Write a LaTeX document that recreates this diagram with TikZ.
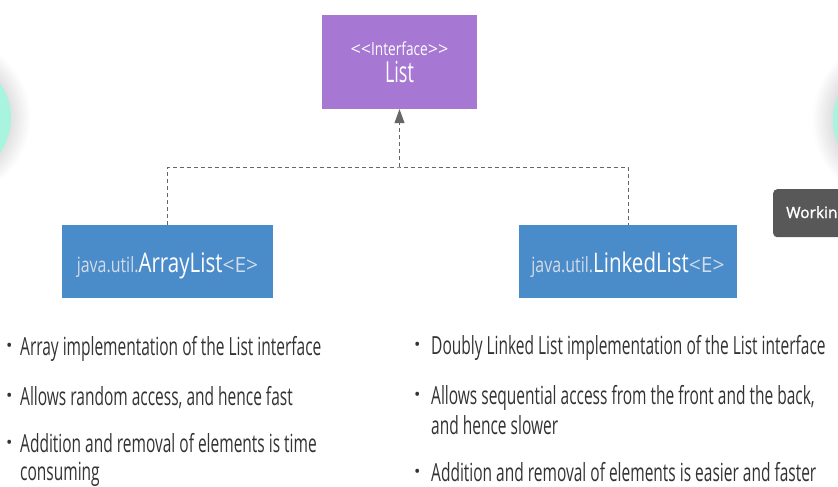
\documentclass[tikz,border=0pt]{standalone}
\usepackage{fontspec}
\setmainfont{Open Sans}
\newfontfamily\cond{Open Sans}[FakeStretch=0.62]
\newfontfamily\condB{Open Sans}[FakeStretch=0.76]
\newfontfamily\plainsans{Open Sans}
\newfontfamily\tipfont{Open Sans}[FakeBold=1.5]
\usetikzlibrary{arrows.meta}
\definecolor{ifacepurple}{HTML}{A677D3}
\definecolor{classblue}{HTML}{4A8BC9}
\definecolor{mint}{HTML}{A9F4DF}
\definecolor{linegray}{HTML}{666666}
\definecolor{textdark}{HTML}{333333}
\definecolor{javagray}{HTML}{D3DCE8}
\definecolor{tipgray}{HTML}{585858}
\begin{document}
\begin{tikzpicture}[x=1pt,y=-1pt,
  iface/.style={fill=ifacepurple, minimum width=155pt, minimum height=94pt, inner sep=0pt, align=center, text=white},
  classbox/.style={fill=classblue, minimum height=73pt, inner sep=0pt, text=white, text height=21pt, text depth=0pt},
  realize/.style={draw=linegray, line width=0.9pt, dash pattern=on 4pt off 3pt},
  realizetip/.style={draw=linegray, line width=0.9pt, dash pattern=on 4pt off 3pt, -{Triangle[length=14pt,width=10pt,fill=linegray]}},
  itemtext/.style={anchor=base west, inner sep=0pt, text=textdark, font=\cond\fontsize{25}{30}\selectfont},
  dotmark/.style={anchor=base west, inner sep=0pt, text=textdark, font=\plainsans\fontsize{17}{20}\selectfont},
  mintball/.style={fill=mint, draw=none},
  tipbox/.style={fill=tipgray, rounded corners=4pt, anchor=north west, minimum height=48pt, minimum width=80pt, inner sep=0pt, text=white}
]
\useasboundingbox (0,0) rectangle (838,487);
\clip (0,0) rectangle (838,487);
\fill[white] (0,0) rectangle (838,487);

% side circles with soft shadow
\foreach \k in {10,...,1}{
  \fill[black, opacity=0.012] (-50,118) circle ({60+2*\k});
  \fill[black, opacity=0.012] (896,120) circle ({63+2*\k});
}
\fill[mintball] (-50,118) circle (61);
\fill[mintball] (896,120) circle (63);

% tooltip
\node[tipbox] (tip) at (773,189) {};
\node[anchor=base west, inner sep=0pt, text=white, font=\tipfont\fontsize{15.5}{18}\selectfont] (tiptext) at (786,218) {Workin};

% interface
\node[iface] (list) at (399.5,62) {{\fontsize{18}{20}\selectfont\plainsans <\kern0pt<\condB Interface\plainsans >\kern0pt>}\\[5pt]{\cond\fontsize{29}{30}\selectfont List}};

% classes
\node[classbox, minimum width=211pt] (al) at (167.5,261.5)
  {{\condB\fontsize{21}{24}\selectfont\color{javagray}java.util.}{\condB\fontsize{27}{30}\selectfont ArrayList}{\plainsans\fontsize{21}{24}\selectfont\color{javagray}<E>}};
\node[classbox, minimum width=218pt] (ll) at (628,261.5)
  {{\condB\fontsize{21}{24}\selectfont\color{javagray}java.util.}{\condB\fontsize{27}{30}\selectfont LinkedList}{\plainsans\fontsize{21}{24}\selectfont\color{javagray}<E>}};

% connectors
\coordinate (join) at (399.5,167);
\draw[realize] (al.north) |- (join) -| (ll.north);
\draw[realizetip] (join) -- (list.south);

% left list
\node[dotmark] (lb1) at (6,351) {•};
\node[itemtext] (lt1) at (20,355) {Array implementation of the List interface};
\node[dotmark] (lb2) at (6,401) {•};
\node[itemtext] (lt2) at (20,405) {Allows random access, and hence fast};
\node[dotmark] (lb3) at (6,448) {•};
\node[itemtext] (lt3) at (20,452) {Addition and removal of elements is time};
\node[itemtext] (lt3b) at (20,480) {consuming};

% right list
\node[dotmark] (rb1) at (414,350) {•};
\node[itemtext] (rt1) at (431,354) {Doubly Linked List implementation of the List interface};
\node[dotmark] (rb2) at (414,400) {•};
\node[itemtext] (rt2) at (431,404) {Allows sequential access from the front and the back,};
\node[itemtext] (rt2b) at (431,434) {and hence slower};
\node[dotmark] (rb3) at (414,477) {•};
\node[itemtext] (rt3) at (431,481) {Addition and removal of elements is easier and faster};
\end{tikzpicture}
\end{document}
